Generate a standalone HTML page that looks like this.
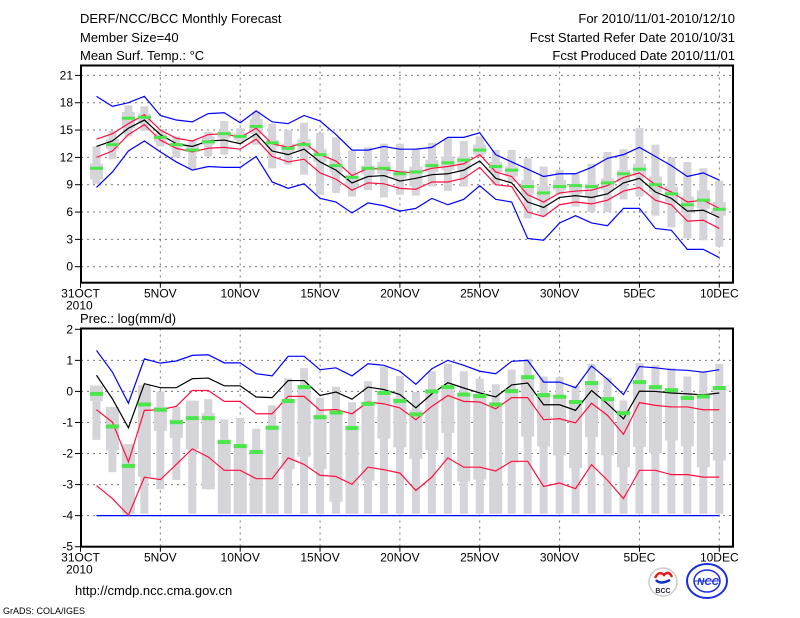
<!DOCTYPE html>
<html><head><meta charset="utf-8"><style>
html,body{margin:0;padding:0;background:#fff;}
svg{display:block;font-family:"Liberation Sans",sans-serif;}
</style></head><body>
<svg id="c" width="800" height="618" viewBox="0 0 800 618" xmlns="http://www.w3.org/2000/svg">
<g font-size="13" fill="#000">
<text x="80" y="23">DERF/NCC/BCC Monthly Forecast</text>
<text x="80" y="42">Member Size=40</text>
<text x="80" y="60">Mean Surf. Temp.: °C</text>
<text x="735" y="23" text-anchor="end">For 2010/11/01-2010/12/10</text>
<text x="735" y="42" text-anchor="end">Fcst Started Refer Date 2010/10/31</text>
<text x="735" y="60" text-anchor="end">Fcst Produced Date 2010/11/01</text>
<text x="80" y="323">Prec.: log(mm/d)</text>
<text x="75" y="595" font-size="13">http://cmdp.ncc.cma.gov.cn</text>
<text x="3" y="614" font-size="9">GrADS: COLA/IGES</text>
</g>
<g>
<circle cx="663" cy="582" r="14" fill="#fff" stroke="#ccc" stroke-width="1.5"/>
<path d="M655 578 q4 -8 9 -3 q5 -5 8 2" fill="none" stroke="#e02020" stroke-width="2.5"/>
<path d="M656 580 q4 5 14 0" fill="none" stroke="#1030c0" stroke-width="2.5"/>
<text x="663" y="593" font-size="7" font-weight="bold" text-anchor="middle" fill="#223">BCC</text>
</g>
<g>
<ellipse cx="707" cy="581" rx="20" ry="17" fill="#fff" stroke="#1a2ee0" stroke-width="2"/>
<ellipse cx="707" cy="581" rx="13" ry="11" fill="none" stroke="#1a2ee0" stroke-width="1.5"/>
<line x1="694" y1="581" x2="720" y2="581" stroke="#1a2ee0"/>
<text x="708" y="585" font-size="10" font-weight="bold" font-style="italic" text-anchor="middle" fill="#1a2ee0">NCC</text>
</g>
<g id="top"></g>
<g id="bot"></g>
</svg>
<script>
// ---- Temperature data (days 1..40 = Nov1..Dec10) ----
const tBlueHi=[18.7,17.6,18.0,18.7,16.6,16.1,15.9,16.8,16.9,15.8,17.1,15.9,15.7,16.6,16.0,14.5,12.8,12.8,13.2,12.9,12.9,13.1,14.2,14.2,14.7,12.3,11.5,10.7,9.9,10.2,10.2,10.9,11.9,12.3,13.1,12.1,11.1,9.9,10.3,9.5];
const tBlueLo=[8.7,10.4,12.7,13.8,12.6,11.5,10.6,11.0,10.9,10.9,12.1,9.3,8.6,9.1,7.5,7.1,5.9,7.0,6.7,6.1,6.4,7.5,6.8,7.4,8.9,7.4,7.1,3.1,2.9,4.8,5.6,4.8,4.5,6.4,6.4,4.2,4.0,1.9,1.9,1.0];
const tMean=[13.2,13.8,15.2,16.1,14.5,13.5,13.2,13.8,13.9,13.5,14.6,12.7,12.3,12.9,11.5,10.6,9.2,9.9,10.0,9.4,9.7,10.1,10.2,10.6,11.6,9.7,9.2,7.1,6.5,7.6,7.8,7.6,8.0,9.2,9.7,8.2,7.5,6.1,6.2,5.4];
const tRedHi=[14.0,14.6,15.7,16.7,15.0,14.1,13.8,14.5,14.6,14.2,15.2,13.5,13.1,13.6,12.3,11.6,10.0,10.8,10.7,10.4,10.3,10.8,11.0,11.3,12.3,10.4,9.9,7.9,7.1,8.1,8.3,8.4,8.9,9.8,10.3,9.0,8.2,7.1,7.3,6.4];
const tRedLo=[12.0,12.7,14.5,15.6,13.9,13.0,12.6,13.0,13.1,12.9,14.0,12.1,11.5,11.8,10.3,9.6,8.4,9.2,9.1,8.6,8.5,9.3,9.3,9.7,10.9,9.0,8.8,6.0,5.5,6.8,7.1,6.9,7.3,8.3,8.7,7.3,6.8,5.0,5.1,4.2];
const tMedian=[10.8,13.4,16.3,16.4,14.2,13.4,12.8,13.7,14.6,14.3,15.4,13.6,13.0,13.4,12.3,11.1,9.8,10.8,10.8,10.2,10.4,11.1,11.4,11.7,12.8,11.0,10.6,8.8,8.1,8.8,8.9,8.8,9.2,10.2,10.7,9.0,8.0,6.8,7.3,6.3];
const tMax=[13.2,14.9,17.7,17.6,15.1,14.3,13.9,14.8,16.0,15.2,17.0,15.7,15.0,15.8,14.7,14.2,12.7,13.1,13.5,13.5,13.0,13.6,14.1,13.8,14.3,12.8,12.8,11.9,11.0,10.6,10.2,11.3,12.6,12.9,15.2,13.4,12.0,11.5,10.8,9.4];
const tMin=[9.1,11.8,14.3,14.9,13.2,12.0,10.7,12.1,12.3,13.5,13.4,10.8,11.2,10.1,7.9,8.1,7.7,8.4,7.6,7.9,7.8,8.8,8.3,8.8,12.1,9.0,9.3,5.3,5.5,7.9,6.6,6.0,6.0,7.4,7.7,5.6,4.3,3.1,2.9,2.2];
const tQ3=[11.3,14.0,17.0,16.8,14.6,13.5,13.4,14.3,14.9,14.6,16.2,13.9,13.5,14.0,12.9,11.8,10.1,11.1,11.5,10.6,11.0,11.7,12.1,12.1,13.4,11.5,11.0,9.5,8.8,9.5,9.1,9.1,9.7,10.6,11.3,9.9,8.8,7.7,8.4,7.1];
const tQ1=[9.6,12.9,15.2,15.8,13.7,13.1,12.6,13.4,14.1,13.9,14.6,13.1,12.5,12.8,11.5,10.4,8.8,10.1,10.2,9.7,8.8,10.4,10.6,10.6,12.3,10.4,9.9,7.9,7.3,8.4,8.0,7.7,8.4,9.3,9.9,8.2,7.1,5.9,6.4,5.6];
const tTicks=[21,18,15,12,9,6,3,0];
// ---- Precipitation data ----
const pBlueHi=[1.32,0.62,-0.38,1.05,0.91,0.98,1.16,1.18,0.92,0.92,0.57,0.50,1.13,1.13,0.70,0.76,0.50,0.89,0.84,0.65,0.23,0.73,1.0,0.84,0.65,0.57,0.97,1.0,0.30,0.30,0.12,0.82,0.39,-0.10,0.80,0.76,0.70,0.68,0.62,0.70];
const pBlueLo=[-4,-4,-4,-4,-4,-4,-4,-4,-4,-4,-4,-4,-4,-4,-4,-4,-4,-4,-4,-4,-4,-4,-4,-4,-4,-4,-4,-4,-4,-4,-4,-4,-4,-4,-4,-4,-4,-4,-4,-4];
const pMean=[0.52,-0.24,-1.17,0.25,0.12,0.12,0.41,0.43,0.18,0.18,-0.18,-0.20,0.35,0.35,-0.13,-0.02,-0.25,0.14,0.06,-0.1,-0.53,-0.08,0.28,0.11,-0.05,-0.18,0.21,0.27,-0.43,-0.43,-0.61,0.03,-0.40,-0.88,0.01,0.0,-0.05,-0.08,-0.11,-0.05];
const pRedHi=[-0.59,-0.99,-2.27,-0.61,-0.59,-0.48,0.03,0.03,-0.32,-0.32,-0.72,-0.72,-0.16,-0.16,-0.61,-0.58,-0.72,-0.34,-0.40,-0.53,-0.91,-0.48,-0.13,-0.32,-0.34,-0.56,-0.2,-0.2,-0.91,-0.88,-1.01,-0.38,-0.77,-1.38,-0.36,-0.45,-0.5,-0.5,-0.59,-0.59];
const pRedLo=[-3.03,-3.45,-3.99,-2.76,-2.84,-2.35,-1.85,-2.11,-2.54,-2.54,-2.81,-2.81,-2.14,-2.35,-2.70,-2.74,-2.99,-2.44,-2.52,-2.63,-3.19,-2.76,-2.14,-2.44,-2.44,-2.56,-2.25,-2.25,-3.06,-2.95,-3.13,-2.36,-2.86,-3.45,-2.54,-2.54,-2.68,-2.68,-2.76,-2.76];
const pMedian=[-0.08,-1.13,-2.40,-0.42,-0.59,-0.99,-0.86,-0.86,-1.63,-1.76,-1.95,-1.17,-0.31,0.14,-0.83,-0.68,-1.18,-0.40,-0.05,-0.31,-0.74,0.0,0.14,-0.10,-0.15,-0.42,0.01,0.46,-0.12,-0.17,-0.34,0.27,-0.25,-0.70,0.30,0.14,0.04,-0.21,-0.16,0.11];
const pMax=[0.19,-0.5,-1.7,0.2,0.0,-0.48,-0.3,-0.25,-0.9,-0.85,-1.2,-0.45,0.42,0.75,-0.2,0.15,-0.35,0.33,0.8,0.5,-0.02,0.65,0.89,0.65,0.41,0.23,0.7,1.05,0.48,0.46,0.19,0.89,0.44,-0.29,0.91,0.84,0.76,0.48,0.62,0.89];
const pMin=[-1.56,-2.6,-3.94,-3.94,-3.15,-2.85,-3.94,-3.15,-3.94,-3.94,-3.94,-3.94,-3.94,-3.94,-3.94,-3.94,-3.94,-3.94,-3.94,-3.94,-3.94,-3.94,-3.94,-3.94,-3.94,-3.94,-3.94,-3.94,-3.94,-3.94,-3.94,-3.94,-3.94,-3.94,-3.94,-3.94,-3.94,-3.94,-3.94,-3.94];
const pQ3=[0.19,-0.5,-1.7,0.2,-0.5,-0.9,-0.3,-0.7,-1.55,-1.7,-1.9,-1.1,-0.25,0.1,-0.75,-0.6,-1.1,-0.35,-0.05,-0.2,-0.6,0.03,0.19,-0.08,-0.08,-0.4,0.03,0.5,-0.08,-0.13,-0.29,0.3,-0.18,-0.61,0.36,0.19,0.09,-0.13,-0.1,0.16];
const pQ1=[-0.31,-1.9,-3.94,-2.75,-1.27,-1.5,-1.87,-3.15,-3.94,-3.94,-3.94,-3.94,-2.5,-2.1,-2.5,-3.55,-3.94,-2.87,-1.52,-1.8,-2.17,-1.9,-1.34,-2.9,-2.84,-3.94,-2.31,-1.45,-1.77,-2.06,-2.47,-1.47,-2.06,-2.44,-1.79,-1.98,-1.58,-1.77,-2.44,-2.22];
const pTicks=[2,1,0,-1,-2,-3,-4,-5];
const xTickDays=[0,5,10,15,20,25,30,35,40];
const xTickLabels=["31OCT","5NOV","10NOV","15NOV","20NOV","25NOV","30NOV","5DEC","10DEC"];

const NS="http://www.w3.org/2000/svg";
const xS=d=>80.5+15.97*d;
const yT=v=>266.7-9.11*v;
const yB=v=>329.3+(2-v)*31.06;
function mk(p,tag,at){const e=document.createElementNS(NS,tag);for(const k in at)e.setAttribute(k,at[k]);p.appendChild(e);return e;}

function panel(g,ys,top,bot,ticks,ser){
  // grid
  xTickDays.forEach((d,i)=>{
    if(d>0&&d<40||d===40){const l=mk(g,'line',{x1:xS(d),x2:xS(d),y1:top,y2:bot,stroke:'#777','stroke-dasharray':'2,4','stroke-width':1});
    
    }
    const t=mk(g,'line',{x1:xS(d),x2:xS(d),y1:bot,y2:bot+5,stroke:'#000'});
    
    
    const tx=mk(g,'text',{x:xS(d),y:bot+15,'font-size':12,'text-anchor':'middle'});tx.textContent=xTickLabels[i];
    
    
  });
  const yr=mk(g,'text',{x:66,y:bot+27,'font-size':12});yr.textContent='2010';
  
  
  ticks.forEach(v=>{
    const y=ys(v);
    if(y>top+2&&y<bot-2){const l=mk(g,'line',{x1:81,x2:733,y1:y,y2:y,stroke:'#777','stroke-dasharray':'2,4'});
    
    }
    const t=mk(g,'line',{x1:75,x2:81,y1:y,y2:y,stroke:'#000'});
    
    
    const tx=mk(g,'text',{x:73,y:y+4,'font-size':12,'text-anchor':'end'});tx.textContent=v;
    
    
  });
  // boxes
  for(let i=0;i<40;i++){
    const x=xS(i+1);
    const w=mk(g,'rect',{x:x-4,y:ys(ser.max[i]),width:8,height:ys(ser.min[i])-ys(ser.max[i]),fill:'#d4d4d9'});
    
    
    const b=mk(g,'rect',{x:x-6.5,y:ys(ser.q3[i]),width:13,height:Math.max(1,ys(ser.q1[i])-ys(ser.q3[i])),fill:'#d4d4d9'});
    
    
  }
  const line=(arr,col,name)=>{
    const pl=mk(g,'polyline',{points:arr.map((v,i)=>xS(i+1)+','+ys(v)).join(' '),fill:'none',stroke:col,'stroke-width':1.2});
    
    
  };
  line(ser.bhi,'#0000ff','blue-upper-line');
  line(ser.blo,'#0000ff','blue-lower-line');
  line(ser.rhi,'#ff1040','red-upper-line');
  line(ser.rlo,'#ff1040','red-lower-line');
  line(ser.mean,'#000','ensemble-mean-line');
  for(let i=0;i<40;i++){
    const r=mk(g,'rect',{x:xS(i+1)-6.5,y:ys(ser.med[i])-ser.gh/2,width:13,height:ser.gh,fill:'#4ce64c'});
    
    
  }
  const f=mk(g,'rect',{x:81,y:top,width:652,height:bot-top,fill:'none',stroke:'#000','stroke-width':2});
  
  
}
panel(document.getElementById('top'),yT,65.5,282.7,tTicks,{max:tMax,min:tMin,q3:tQ3,q1:tQ1,bhi:tBlueHi,blo:tBlueLo,rhi:tRedHi,rlo:tRedLo,mean:tMean,med:tMedian,gh:3});
panel(document.getElementById('bot'),yB,328.5,546.7,pTicks,{max:pMax,min:pMin,q3:pQ3,q1:pQ1,bhi:pBlueHi,blo:pBlueLo,rhi:pRedHi,rlo:pRedLo,mean:pMean,med:pMedian,gh:4});
</script>
</body></html>
